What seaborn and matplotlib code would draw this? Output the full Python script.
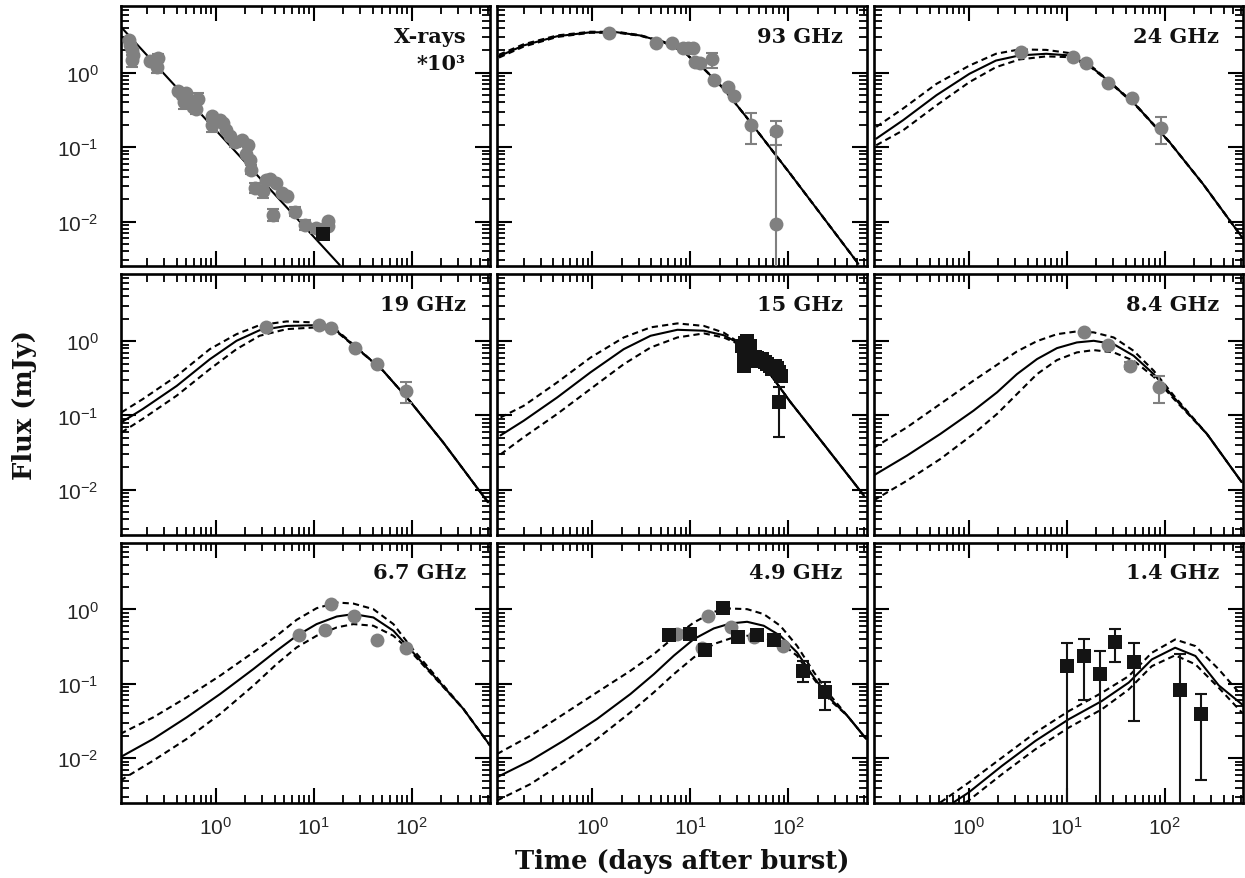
import numpy as np
import pandas as pd
import matplotlib
matplotlib.use("Agg")
import matplotlib.pyplot as plt
import seaborn as sns
from matplotlib.ticker import FuncFormatter, FixedLocator, NullFormatter

# ---------------- data ----------------
panel_labels = ["X-rays\n*10³", "93 GHz", "24 GHz", "19 GHz", "15 GHz",
                "8.4 GHz", "6.7 GHz", "4.9 GHz", "1.4 GHz"]

# X-rays (scaled by 10^3)
xr_t = [0.13, 0.134, 0.139, 0.144, 0.141, 0.215, 0.258, 0.252, 0.41, 0.457, 0.50, 0.475,
        0.52, 0.61, 0.66, 0.635, 0.59, 0.92, 0.92, 1.1, 1.2, 1.28, 1.39, 1.56, 1.87, 2.14,
        2.06, 2.26, 2.31, 2.54, 3.04, 3.29, 3.6, 4.1, 3.84, 4.79, 5.35, 6.5, 8.1, 10.6, 14.0, 14.0]
xr_f = [2.72, 2.33, 2.0, 1.71, 1.49, 1.42, 1.59, 1.19, 0.56, 0.50, 0.54, 0.40, 0.45, 0.40,
        0.45, 0.33, 0.345, 0.262, 0.196, 0.229, 0.21, 0.168, 0.141, 0.117, 0.124, 0.108,
        0.082, 0.0665, 0.050, 0.0283, 0.0255, 0.0359, 0.0375, 0.0334, 0.0124, 0.0243,
        0.0222, 0.0135, 0.0089, 0.0081, 0.0101, 0.0086]
xr_err_t = [0.141, 0.258, 0.252, 0.475, 0.635, 0.66, 0.92, 1.56, 2.31, 2.54, 3.04, 3.84, 6.5, 8.1, 10.6]
xr_err_f = [1.49, 1.59, 1.19, 0.40, 0.33, 0.45, 0.196, 0.117, 0.050, 0.0283, 0.0255, 0.0124, 0.0135, 0.0089, 0.0081]
xr_err_lo = [1.2, 1.40, 0.98, 0.33, 0.28, 0.39, 0.16, 0.10, 0.043, 0.024, 0.021, 0.0103, 0.0118, 0.0076, 0.0069]
xr_err_hi = [1.75, 1.80, 1.40, 0.47, 0.38, 0.53, 0.23, 0.135, 0.057, 0.033, 0.030, 0.0148, 0.0155, 0.0104, 0.0094]
xr_sq_t = [12.4]
xr_sq_f = [0.0067]
xr_model_t = [0.105, 18.4]
xr_model_f = [4.3, 0.0026]

# 93 GHz
t93 = [0.112, 0.2, 0.44, 0.96, 1.8, 3.1, 5.4, 8.6, 13.8, 22, 41, 106, 520]
mid93 = [1.67, 2.33, 3.1, 3.5, 3.5, 3.17, 2.58, 1.89, 1.13, 0.61, 0.218, 0.043, 0.0027]
hi93 = [1.75, 2.42, 3.18, 3.56, 3.55, 3.2, 2.6, 1.9, 1.13, 0.61, 0.218, 0.043, 0.0027]
lo93 = [1.60, 2.25, 3.03, 3.45, 3.46, 3.14, 2.56, 1.88, 1.13, 0.61, 0.218, 0.043, 0.0027]
g93_t = [1.48, 4.5, 6.55, 8.5, 9.6, 10.6, 11.1, 12.6, 16.8, 17.7, 24.4, 27.9, 41.9, 75.5, 75.5]
g93_f = [3.44, 2.5, 2.53, 2.14, 2.14, 2.14, 1.39, 1.35, 1.51, 0.805, 0.64, 0.49, 0.2, 0.163, 0.0092]
g93_err_t = [16.8, 41.9, 75.5, 75.5]
g93_err_f = [1.51, 0.2, 0.163, 0.0092]
g93_err_lo = [1.15, 0.109, 0.106, 0.0005]
g93_err_hi = [1.86, 0.288, 0.227, 0.144]

# 24 GHz
t24 = [0.114, 0.214, 0.47, 1.02, 1.9, 3.3, 6.2, 10.7, 17.2, 27.5, 51, 112, 246, 630]
mid24 = [0.13, 0.23, 0.5, 0.97, 1.46, 1.71, 1.8, 1.71, 1.25, 0.75, 0.365, 0.117, 0.032, 0.0059]
hi24 = [0.187, 0.33, 0.71, 1.25, 1.8, 2.06, 2.03, 1.84, 1.28, 0.76, 0.37, 0.118, 0.032, 0.0059]
lo24 = [0.106, 0.168, 0.365, 0.75, 1.19, 1.51, 1.66, 1.62, 1.22, 0.74, 0.36, 0.116, 0.032, 0.0059]
g24_t = [3.45, 11.6, 15.6, 26.4, 46.4, 91]
g24_f = [1.89, 1.62, 1.36, 0.73, 0.457, 0.18]
g24_err_t = [91]
g24_err_f = [0.18]
g24_err_lo = [0.109]
g24_err_hi = [0.254]

# 19 GHz
t19 = [0.109, 0.18, 0.4, 0.87, 1.63, 2.8, 5.3, 10.6, 17, 27.2, 51, 95, 209, 600]
mid19 = [0.081, 0.122, 0.25, 0.57, 1.01, 1.4, 1.6, 1.64, 1.38, 0.82, 0.4, 0.158, 0.0436, 0.0068]
hi19 = [0.11, 0.166, 0.34, 0.78, 1.24, 1.64, 1.84, 1.78, 1.42, 0.83, 0.4, 0.158, 0.0436, 0.0068]
lo19 = [0.059, 0.09, 0.185, 0.42, 0.78, 1.18, 1.45, 1.53, 1.35, 0.81, 0.4, 0.158, 0.0436, 0.0068]
g19_t = [3.29, 11.3, 15.1, 26.2, 44.7, 87]
g19_f = [1.53, 1.64, 1.49, 0.82, 0.5, 0.215]
g19_err_t = [87]
g19_err_f = [0.215]
g19_err_lo = [0.147]
g19_err_hi = [0.279]

# 15 GHz
t15 = [0.116, 0.2, 0.44, 0.96, 2.1, 3.94, 7.4, 13.8, 22, 32.6, 56.5, 106, 231, 592]
mid15 = [0.054, 0.085, 0.175, 0.38, 0.78, 1.18, 1.42, 1.38, 1.2, 0.91, 0.47, 0.15, 0.041, 0.0084]
hi15 = [0.094, 0.135, 0.279, 0.6, 1.12, 1.53, 1.73, 1.6, 1.3, 0.93, 0.47, 0.15, 0.041, 0.0084]
lo15 = [0.03, 0.051, 0.105, 0.227, 0.49, 0.82, 1.12, 1.27, 1.12, 0.89, 0.47, 0.15, 0.041, 0.0084]
s15_t = [34, 35, 35.8, 36.5, 38, 39.6, 41, 43, 46, 48, 51, 54, 58, 61, 65, 69, 73, 77, 80, 83.5, 81]
s15_f = [0.86, 0.47, 0.64, 0.95, 1.0, 0.74, 0.85, 0.54, 0.62, 0.6, 0.55, 0.57, 0.52, 0.49,
         0.47, 0.42, 0.46, 0.44, 0.38, 0.34, 0.153]
s15_err_t = [81]
s15_err_f = [0.153]
s15_err_lo = [0.051]
s15_err_hi = [0.239]

# 8.4 GHz
t84 = [0.107, 0.235, 0.514, 1.12, 1.95, 3.11, 4.98, 7.96, 12.7, 18.9, 30.2, 48.3, 77.3, 124, 270, 611]
mid84 = [0.0156, 0.0289, 0.0565, 0.116, 0.205, 0.36, 0.573, 0.805, 0.96, 1.01, 0.91, 0.635,
         0.36, 0.175, 0.0565, 0.0127]
hi84 = [0.0366, 0.0694, 0.143, 0.294, 0.481, 0.726, 1.0, 1.24, 1.35, 1.31, 1.12, 0.74,
        0.4, 0.185, 0.0565, 0.0127]
lo84 = [0.0072, 0.0133, 0.026, 0.0565, 0.105, 0.194, 0.36, 0.556, 0.705, 0.757, 0.705, 0.545,
        0.332, 0.167, 0.0565, 0.0127]
g84_t = [15.1, 26.4, 44.7, 88]
g84_f = [1.33, 0.88, 0.467, 0.239]
g84_err_t = [44.7, 88]
g84_err_f = [0.467, 0.239]
g84_err_lo = [0.42, 0.146]
g84_err_hi = [0.52, 0.343]

# 6.7 GHz
t67 = [0.106, 0.231, 0.506, 1.11, 2.42, 4.19, 6.7, 10.7, 17.2, 25.4, 40.6, 65, 96, 180, 337, 630]
mid67 = [0.0103, 0.0182, 0.0355, 0.0731, 0.158, 0.279, 0.443, 0.636, 0.805, 0.866, 0.781,
         0.517, 0.294, 0.116, 0.0459, 0.0148]
hi67 = [0.0212, 0.0355, 0.0659, 0.129, 0.265, 0.443, 0.727, 1.04, 1.24, 1.20, 1.01, 0.636,
        0.325, 0.122, 0.0459, 0.0148]
lo67 = [0.005, 0.0093, 0.0182, 0.0394, 0.0945, 0.185, 0.309, 0.443, 0.574, 0.636, 0.604,
        0.443, 0.279, 0.113, 0.0459, 0.0148]
g67_t = [7.14, 13.1, 14.9, 25.8, 44, 86.9]
g67_f = [0.457, 0.533, 1.18, 0.805, 0.392, 0.3]

# 4.9 GHz
t49 = [0.107, 0.235, 0.514, 1.12, 2.46, 4.26, 6.8, 10.9, 17.4, 25.8, 38.1, 56.3, 83, 123,
       183, 270, 400, 625]
mid49 = [0.00556, 0.0093, 0.0173, 0.0337, 0.0731, 0.135, 0.239, 0.4, 0.556, 0.649, 0.683,
         0.604, 0.443, 0.265, 0.122, 0.0626, 0.0374, 0.0182]
hi49 = [0.0114, 0.0201, 0.0394, 0.0769, 0.15, 0.251, 0.421, 0.669, 0.93, 1.03, 1.01, 0.866,
        0.604, 0.325, 0.143, 0.0694, 0.0374, 0.0182]
lo49 = [0.0027, 0.0045, 0.0088, 0.0182, 0.0414, 0.0769, 0.135, 0.227, 0.343, 0.408, 0.443,
        0.421, 0.36, 0.239, 0.116, 0.0594, 0.0374, 0.0182]
g49_t = [7.37, 13.3, 15.1, 26.2, 44.7, 88]
g49_f = [0.467, 0.3, 0.805, 0.585, 0.421, 0.325]
s49_t = [6.06, 9.9, 14.3, 21.5, 30.6, 47.5, 71.4, 142, 240]
s49_f = [0.457, 0.467, 0.288, 1.06, 0.421, 0.457, 0.388, 0.15, 0.0769]
s49_err_t = [142, 240]
s49_err_f = [0.15, 0.0769]
s49_err_lo = [0.107, 0.0445]
s49_err_hi = [0.2, 0.105]

# 1.4 GHz
t14_mid = [0.70, 1.0, 2.19, 4.8, 10.5, 22.9, 43, 74, 128, 206, 356, 615]
mid14 = [0.00254, 0.00346, 0.0079, 0.0171, 0.0334, 0.0589, 0.104, 0.213, 0.306, 0.237, 0.0955, 0.053]
t14_hi = [0.514, 1.0, 2.19, 4.8, 10.5, 22.9, 43, 74, 128, 206, 356, 615]
hi14 = [0.00254, 0.0047, 0.0102, 0.0221, 0.043, 0.076, 0.127, 0.262, 0.395, 0.322, 0.157, 0.0687]
t14_lo = [0.925, 1.0, 2.19, 4.8, 10.5, 22.9, 43, 74, 128, 206, 356, 615]
lo14 = [0.00254, 0.0027, 0.0061, 0.0132, 0.0258, 0.0455, 0.084, 0.173, 0.242, 0.183, 0.0887, 0.041]
s14_t = [10.1, 14.9, 22, 30.9, 48.3, 144, 237]
s14_f = [0.173, 0.237, 0.134, 0.365, 0.196, 0.0835, 0.039]
s14_err_lo = [0.0005, 0.0607, 0.0005, 0.198, 0.0317, 0.0005, 0.0051]
s14_err_hi = [0.357, 0.404, 0.279, 0.54, 0.357, 0.249, 0.072]

# ---------------- styling ----------------
GREY = "#808080"
BLACK = "#141414"
SERIF = ["DejaVu Serif"]
SANS = ["Liberation Sans", "DejaVu Sans"]

sns.set_theme(style="ticks")
plt.rcParams["font.family"] = SANS
plt.rcParams["axes.linewidth"] = 1.9

fig, axes = plt.subplots(3, 3, figsize=(12.45, 8.79), dpi=100)
fig.patch.set_facecolor("white")
fig.subplots_adjust(left=121 / 1245, right=1243 / 1245, bottom=1 - 804 / 879,
                    top=1 - 7 / 879, wspace=0.02, hspace=0.031)
axes = axes.ravel()
for ax in axes:
    ax.set_xscale("log")
    ax.set_yscale("log")
    ax.set_facecolor("white")


def curves_df(items):
    frames = []
    for kind, t, f in items:
        frames.append(pd.DataFrame({"t": t, "f": f, "kind": kind}))
    return pd.concat(frames, ignore_index=True)


def draw_curves(ax, items):
    df = curves_df(items)
    kinds = list(dict.fromkeys(df["kind"]))
    dashes = {k: ("" if k == "mid" else (3, 2)) for k in kinds}
    sns.lineplot(data=df, x="t", y="f", style="kind", dashes=dashes, color="black",
                 lw=1.5, estimator=None, sort=False, legend=False, ax=ax, zorder=2)


def draw_err(ax, t, f, lo, hi, color):
    t = np.asarray(t); f = np.asarray(f)
    ax.errorbar(t, f, yerr=[f - np.asarray(lo), np.asarray(hi) - f], fmt="none",
                ecolor=color, elinewidth=1.5, capsize=4, capthick=1.5, zorder=3)


def draw_pts(ax, t, f, kind):
    if kind == "grey":
        sns.scatterplot(x=t, y=f, color=GREY, marker="o", s=100, linewidth=0, ax=ax, zorder=4)
    else:
        sns.scatterplot(x=t, y=f, color=BLACK, marker="s", s=110, linewidth=0, ax=ax, zorder=5)


# Panel 0: X-rays
ax = axes[0]
draw_curves(ax, [("mid", xr_model_t, xr_model_f)])
draw_err(ax, xr_err_t, xr_err_f, xr_err_lo, xr_err_hi, GREY)
draw_pts(ax, xr_t, xr_f, "grey")
draw_pts(ax, xr_sq_t, xr_sq_f, "sq")

# Panel 1: 93 GHz
ax = axes[1]
draw_curves(ax, [("hi", t93, hi93), ("lo", t93, lo93), ("mid", t93, mid93)])
draw_err(ax, g93_err_t, g93_err_f, g93_err_lo, g93_err_hi, GREY)
draw_pts(ax, g93_t, g93_f, "grey")

# Panel 2: 24 GHz
ax = axes[2]
draw_curves(ax, [("hi", t24, hi24), ("lo", t24, lo24), ("mid", t24, mid24)])
draw_err(ax, g24_err_t, g24_err_f, g24_err_lo, g24_err_hi, GREY)
draw_pts(ax, g24_t, g24_f, "grey")

# Panel 3: 19 GHz
ax = axes[3]
draw_curves(ax, [("hi", t19, hi19), ("lo", t19, lo19), ("mid", t19, mid19)])
draw_err(ax, g19_err_t, g19_err_f, g19_err_lo, g19_err_hi, GREY)
draw_pts(ax, g19_t, g19_f, "grey")

# Panel 4: 15 GHz
ax = axes[4]
draw_curves(ax, [("hi", t15, hi15), ("lo", t15, lo15), ("mid", t15, mid15)])
draw_err(ax, s15_err_t, s15_err_f, s15_err_lo, s15_err_hi, BLACK)
draw_pts(ax, s15_t, s15_f, "sq")

# Panel 5: 8.4 GHz
ax = axes[5]
draw_curves(ax, [("hi", t84, hi84), ("lo", t84, lo84), ("mid", t84, mid84)])
draw_err(ax, g84_err_t, g84_err_f, g84_err_lo, g84_err_hi, GREY)
draw_pts(ax, g84_t, g84_f, "grey")

# Panel 6: 6.7 GHz
ax = axes[6]
draw_curves(ax, [("hi", t67, hi67), ("lo", t67, lo67), ("mid", t67, mid67)])
draw_pts(ax, g67_t, g67_f, "grey")

# Panel 7: 4.9 GHz
ax = axes[7]
draw_curves(ax, [("hi", t49, hi49), ("lo", t49, lo49), ("mid", t49, mid49)])
draw_pts(ax, g49_t, g49_f, "grey")
draw_err(ax, s49_err_t, s49_err_f, s49_err_lo, s49_err_hi, BLACK)
draw_pts(ax, s49_t, s49_f, "sq")

# Panel 8: 1.4 GHz
ax = axes[8]
draw_curves(ax, [("hi", t14_hi, hi14), ("lo", t14_lo, lo14), ("mid", t14_mid, mid14)])
draw_err(ax, s14_t, s14_f, s14_err_lo, s14_err_hi, BLACK)
draw_pts(ax, s14_t, s14_f, "sq")


def decade_label(v, pos):
    lv = np.log10(v)
    if abs(lv - round(lv)) < 1e-6:
        return r"$\mathregular{10^{%d}}$" % round(lv)
    return ""


# all tick positions (decades + 2..9 subdivisions) as major ticks, labelled only at decades;
# decades get an extra longer tick via the minor ticker
decades = [10.0 ** d for d in range(-4, 4)]
all_pos = sorted(decades + [k * 10.0 ** d for d in range(-4, 4) for k in range(2, 10)])
fmt = FuncFormatter(decade_label)
for i, ax in enumerate(axes):
    ax.set_xlim(0.108, 630)
    ax.set_ylim(0.0025, 7.9)
    ax.set_xlabel("")
    ax.set_ylabel("")
    for axis in (ax.xaxis, ax.yaxis):
        axis.set_major_locator(FixedLocator(all_pos))
        axis.set_major_formatter(fmt)
        axis.set_minor_locator(FixedLocator(decades))
        axis.set_minor_formatter(NullFormatter())
        axis.remove_overlapping_locs = False
    ax.tick_params(which="both", direction="in", top=True, right=True, color="black",
                   labelsize=15)
    ax.tick_params(which="major", length=6, width=1.3)
    ax.tick_params(which="minor", length=11, width=1.5)
    ax.tick_params(axis="x", which="major", pad=9)
    ax.tick_params(axis="y", which="major", pad=16)
    for sp in ax.spines.values():
        sp.set_color("black")
        sp.set_linewidth(1.9)
    ax.tick_params(labelbottom=(i >= 6), labelleft=(i % 3 == 0))
    for lab in ax.get_xticklabels() + ax.get_yticklabels():
        lab.set_family(SANS)
    ax.text(0.935, 0.925, panel_labels[i], transform=ax.transAxes, ha="right", va="top",
            multialignment="right", fontsize=15, fontweight="bold", family=SERIF,
            linespacing=1.45, color="#111111")

fig.text(682 / 1245, 1 - 862 / 879, "Time (days after burst)", ha="center", va="center",
         fontsize=18.5, fontweight="bold", family=SERIF, color="#111111")
fig.text(25 / 1245, 1 - 405 / 879, "Flux (mJy)", ha="center", va="center", rotation=90,
         fontsize=18.5, fontweight="bold", family=SERIF, color="#111111")

fig.savefig("out.png", dpi=100, facecolor="white")
